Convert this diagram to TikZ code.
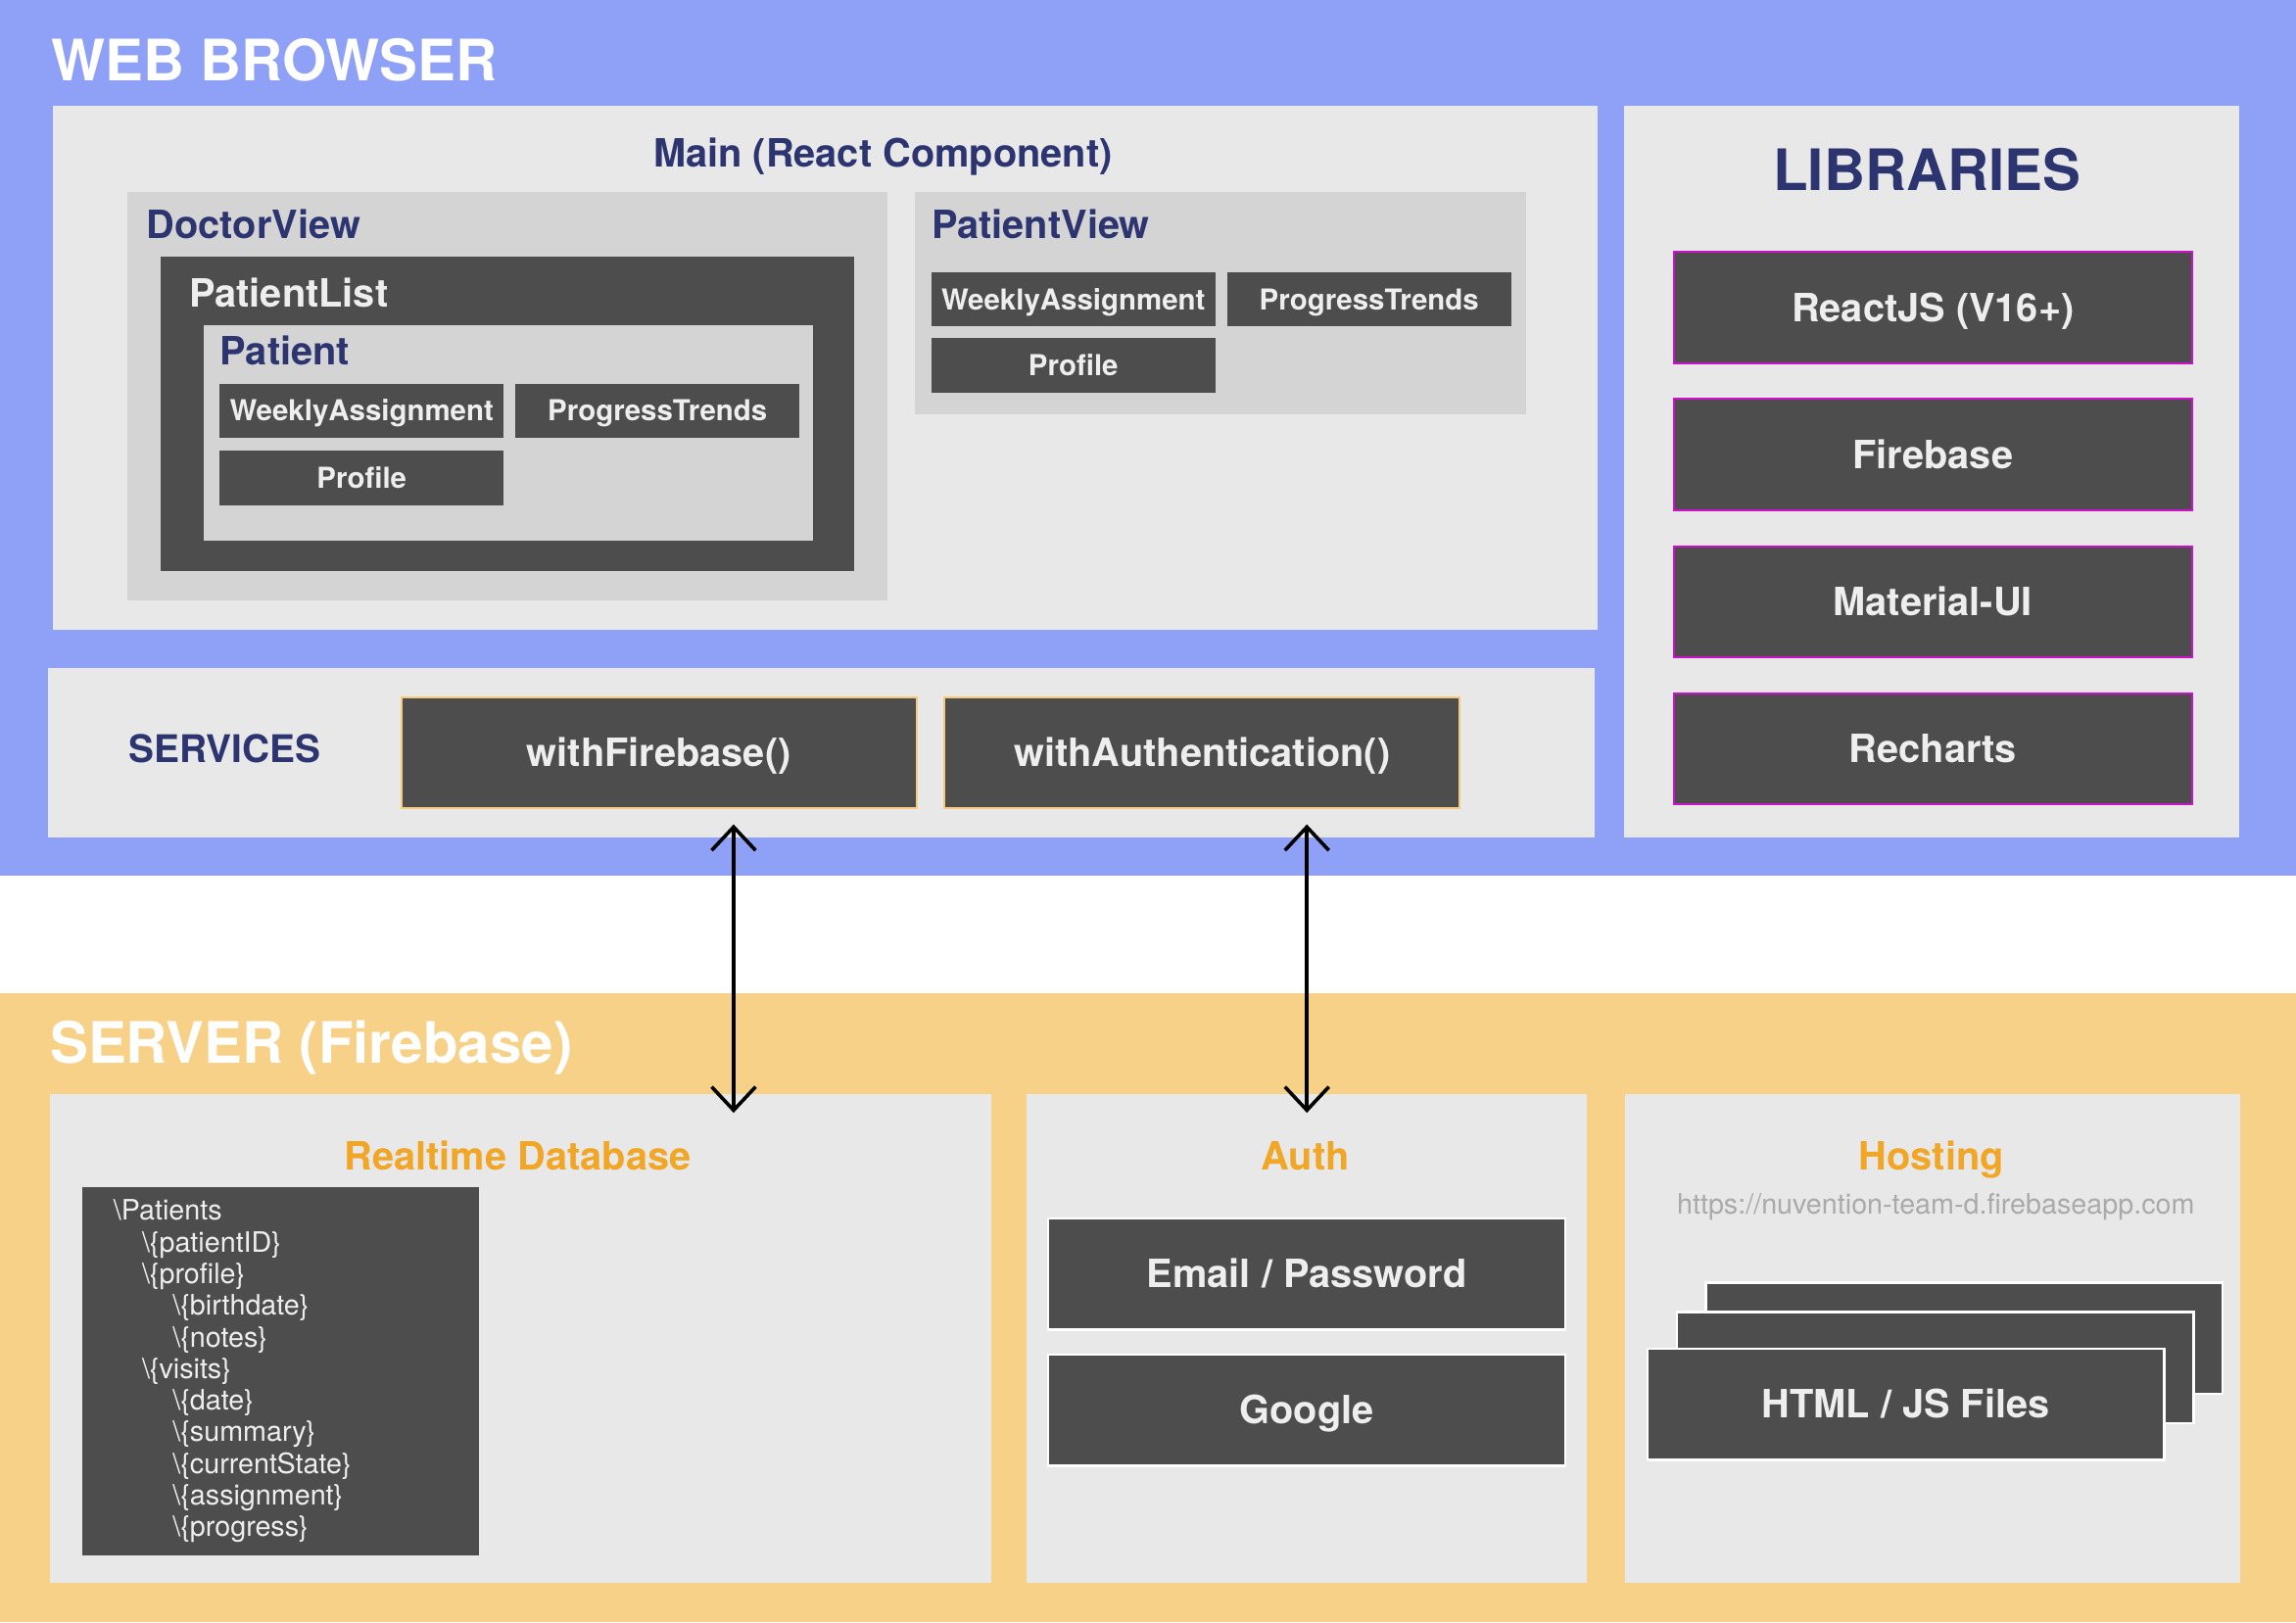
\documentclass[tikz,border=0pt]{standalone}
\usepackage{fontspec}
\setmainfont{TeX Gyre Heros}
\usetikzlibrary{positioning,arrows.meta,calc}

\definecolor{browserblue}{RGB}{143,161,246}
\definecolor{serverorange}{RGB}{247,209,135}
\definecolor{panelgray}{RGB}{232,232,232}
\definecolor{viewgray}{RGB}{212,212,212}
\definecolor{boxgray}{RGB}{77,77,77}
\definecolor{navy}{RGB}{45,53,112}
\definecolor{labelorange}{RGB}{242,166,38}
\definecolor{libpink}{RGB}{204,17,204}
\definecolor{svcborder}{RGB}{247,201,122}
\definecolor{urlgray}{RGB}{170,170,170}
\definecolor{boxtext}{RGB}{238,238,238}

\newcommand{\bigfont}{\fontsize{39}{45}\selectfont\bfseries}
\newcommand{\midfont}{\fontsize{26.6}{31}\selectfont\bfseries}
\newcommand{\smallfont}{\fontsize{19.7}{23}\selectfont\bfseries}
\newcommand{\treefont}{\fontsize{19.2}{21.6}\selectfont}

\begin{document}
\begin{tikzpicture}[
        x=1pt, y=-1pt,
        panel/.style={fill=panelgray, inner sep=0pt, outer sep=0pt, anchor=north west},
        view/.style={fill=viewgray, inner sep=0pt, outer sep=0pt, anchor=north west},
        darkbox/.style={fill=boxgray, text=boxtext, inner sep=0pt, outer sep=0pt},
        compbox/.style={darkbox, font=\smallfont, text height=14.2pt, text depth=0pt, minimum width=194pt, minimum height=37pt},
        libbox/.style={darkbox, draw=libpink, line width=1.3pt, font=\midfont, text height=19pt, text depth=0pt, minimum width=354pt, minimum height=76pt},
        svcbox/.style={darkbox, draw=svcborder, line width=1.3pt, font=\midfont, text height=19pt, text depth=0pt, minimum width=352pt, minimum height=76pt},
        srvbox/.style={darkbox, draw=white, line width=1.5pt, font=\midfont, text height=19pt, text depth=0pt, minimum width=353pt, minimum height=76pt},
        header/.style={text=navy, font=\midfont, inner sep=0pt, anchor=base west},
        bandtitle/.style={text=white, font=\bigfont, inner sep=0pt, anchor=base west},
        srvtitle/.style={text=labelorange, font=\midfont, inner sep=0pt, anchor=base},
        link/.style={{Straight Barb[length=16pt,width=30pt]}-{Straight Barb[length=16pt,width=30pt]}, line width=2.4pt}
    ]
        % Bands
        \fill[browserblue] (0,0) rectangle (1568,598);
        \fill[serverorange] (0,678) rectangle (1568,1108);
        \useasboundingbox (0,0) rectangle (1568,1108);

        % Web browser
        \node (browser) [bandtitle] at (35,55) {WEB BROWSER};
        \node (main) [panel, minimum width=1055pt, minimum height=358pt] at (36,72) {};
        \node (main_lbl) [header, anchor=base] at ([shift={(567,42)}]main.north west) {Main (React Component)};

        \node (doctor_view) [view, minimum width=519pt, minimum height=279pt] at ([shift={(51,59)}]main.north west) {};
        \node (doctor_lbl) [header] at ([shift={(13,32)}]doctor_view.north west) {DoctorView};
        \node (patient_list) [darkbox, anchor=north west, minimum width=473pt, minimum height=215pt] at ([shift={(23,44)}]doctor_view.north west) {};
        \node (list_lbl) [header, text=boxtext] at ([shift={(19,35)}]patient_list.north west) {PatientList};
        \node (patient) [view, minimum width=416pt, minimum height=147pt] at ([shift={(29,47)}]patient_list.north west) {};
        \node (patient_lbl) [header] at ([shift={(11,27)}]patient.north west) {Patient};
        \node (pt_weekly) [compbox, anchor=north west] at ([shift={(11,40)}]patient.north west) {WeeklyAssignment};
        \node (pt_trends) [compbox, right=8pt of pt_weekly] {ProgressTrends};
        \node (pt_profile) [compbox, below=9pt of pt_weekly] {Profile};

        \node (patient_view) [view, minimum width=417pt, minimum height=152pt] at ([shift={(589,59)}]main.north west) {};
        \node (pview_lbl) [header] at ([shift={(11,32)}]patient_view.north west) {PatientView};
        \node (pv_weekly) [compbox, anchor=north west] at ([shift={(11,55)}]patient_view.north west) {WeeklyAssignment};
        \node (pv_trends) [compbox, right=8pt of pv_weekly] {ProgressTrends};
        \node (pv_profile) [compbox, below=8pt of pv_weekly] {Profile};

        % Libraries
        \node (libs) [panel, minimum width=420pt, minimum height=500pt] at (1109,72) {};
        \node (libs_lbl) [header, anchor=base, font=\bigfont] at ([shift={(207,58)}]libs.north west) {LIBRARIES};
        \node (react) [libbox, anchor=north west] at ([shift={(34,100)}]libs.north west) {ReactJS (V16+)};
        \node (firebase) [libbox, below=24.5pt of react] {Firebase};
        \node (material) [libbox, below=24.5pt of firebase] {Material-UI};
        \node (recharts) [libbox, below=24.5pt of material] {Recharts};

        % Services
        \node (services) [panel, minimum width=1056pt, minimum height=116pt] at (33,456) {};
        \node (svc_lbl) [header, font=\fontsize{26}{31}\selectfont\bfseries] at ([shift={(55,65)}]services.north west) {SERVICES};
        \node (fb) [svcbox, anchor=north west] at ([shift={(241,20)}]services.north west) {withFirebase()};
        \node (wa) [svcbox, right=19pt of fb] {withAuthentication()};

        % Server
        \node (server) [bandtitle] at (34,726) {SERVER (Firebase)};
        \node (rtdb) [panel, minimum width=643pt, minimum height=334pt] at (34,747) {};
        \node (rtdb_lbl) [srvtitle] at ([shift={(-2,52)}]rtdb.north) {Realtime Database};
        \node (tree) [darkbox, anchor=north west, font=\treefont, align=left, text width=228pt,
            inner xsep=21.5pt, minimum width=271pt, minimum height=251pt] at ([shift={(22,64)}]rtdb.north west) {%
            \textbackslash Patients\\
            \hspace*{19.5pt}\textbackslash\{patientID\}\\
            \hspace*{19.5pt}\textbackslash\{profile\}\\
            \hspace*{40.5pt}\textbackslash\{birthdate\}\\
            \hspace*{40.5pt}\textbackslash\{notes\}\\
            \hspace*{19.5pt}\textbackslash\{visits\}\\
            \hspace*{40.5pt}\textbackslash\{date\}\\
            \hspace*{40.5pt}\textbackslash\{summary\}\\
            \hspace*{40.5pt}\textbackslash\{currentState\}\\
            \hspace*{40.5pt}\textbackslash\{assignment\}\\
            \hspace*{40.5pt}\textbackslash\{progress\}};

        \node (auth) [panel, minimum width=383pt, minimum height=334pt] at (701,747) {};
        \node (auth_lbl) [srvtitle] at ([shift={(-1,52)}]auth.north) {Auth};
        \node (email) [srvbox, anchor=north] at ([shift={(0,85)}]auth.north) {Email / Password};
        \node (google) [srvbox, below=17pt of email] {Google};

        \node (hosting) [panel, minimum width=420pt, minimum height=334pt] at (1110,747) {};
        \node (hosting_lbl) [srvtitle] at ([shift={(-1,52)}]hosting.north) {Hosting};
        \node (url) [srvtitle, text=urlgray, font=\fontsize{19.2}{23}\selectfont] at ([shift={(2,82)}]hosting.north) {https://nuvention-team-d.firebaseapp.com};
        \node (files_back) [srvbox, anchor=north west] at ([shift={(55,129)}]hosting.north west) {};
        \node (files_mid) [srvbox, anchor=north west] at ([shift={(-20,20)}]files_back.north west) {};
        \node (files) [srvbox, anchor=north west] at ([shift={(-20,25)}]files_mid.north west) {HTML / JS Files};

        % Connections
        \draw[link] ($(fb.south)+(51,11)$) -- ($(fb.south |- rtdb.north)+(51,13)$);
        \draw[link] ($(auth.north |- wa.south)+(0,11)$) -- ($(auth.north)+(0,13)$);
    \end{tikzpicture}
\end{document}
